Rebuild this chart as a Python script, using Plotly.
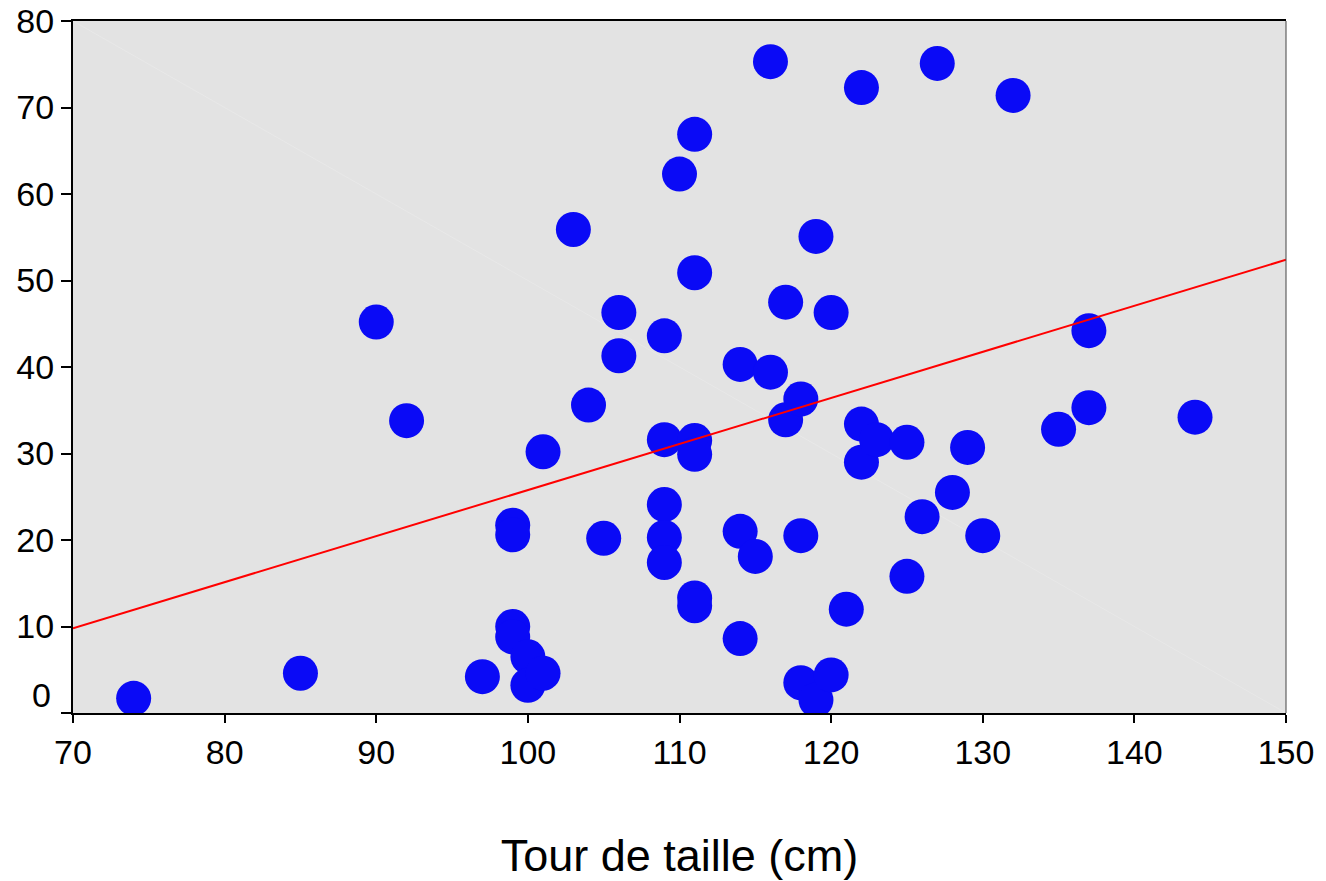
import plotly.graph_objects as go

# Waist circumference (cm) and the measured variable for each subject
tour_taille = [74, 85, 90, 92, 97, 99, 99, 99, 99, 100, 100, 101, 101, 103, 104,
               105, 106, 106, 109, 109, 109, 109, 109, 110, 111, 111, 111, 111,
               111, 111, 114, 114, 114, 115, 116, 116, 117, 117, 118, 118, 118,
               119, 119, 120, 120, 121, 122, 122, 122, 123, 125, 125, 126, 127,
               128, 129, 130, 132, 135, 137, 137, 144]
valeur = [1.7, 4.6, 45.2, 33.8, 4.2, 21.7, 20.6, 10.0, 8.8, 6.5, 3.2, 4.6, 30.2,
          55.9, 35.6, 20.2, 46.3, 41.3, 43.6, 31.6, 24.1, 20.3, 17.4, 62.3, 66.9,
          50.9, 31.5, 29.9, 13.3, 12.4, 40.3, 21.0, 8.6, 18.1, 75.3, 39.4, 47.5,
          33.9, 36.3, 20.5, 3.5, 55.1, 1.5, 46.3, 4.4, 12.0, 72.3, 33.4, 29.0,
          31.6, 31.3, 15.8, 22.7, 75.1, 25.5, 30.7, 20.5, 71.4, 32.8, 44.2, 35.3,
          34.2]

# Linear fit drawn across the full x range
droite_x = [70, 150]
droite_y = [9.8, 52.4]

x_ticks = [70, 80, 90, 100, 110, 120, 130, 140, 150]
y_ticks = [0, 10, 20, 30, 40, 50, 60, 70, 80]

FONT = "Liberation Sans, Arial, sans-serif"
TICK_SIZE = 34

fig = go.Figure()
fig.add_trace(go.Scatter(
    x=tour_taille, y=valeur, mode="markers",
    marker=dict(size=35, color="#0a0af6", line=dict(width=0)),
    showlegend=False, hoverinfo="x+y",
))
fig.add_trace(go.Scatter(
    x=droite_x, y=droite_y, mode="lines",
    line=dict(color="#ff0000", width=2),
    showlegend=False, hoverinfo="skip",
))

# faint diagonal streak across the panel
fig.add_shape(type="line", xref="x", yref="y", x0=70, y0=80, x1=150, y1=0,
              line=dict(color="#e8e8e8", width=1), layer="below")
# thin right border of the panel
fig.add_shape(type="line", xref="paper", yref="paper", x0=1, y0=0, x1=1, y1=1,
              line=dict(color="#444444", width=1))

# "0" label sits slightly above its tick
fig.add_annotation(x=0, xref="paper", y=2.1, yref="y", text="0",
                   showarrow=False, xanchor="right", xshift=-20,
                   font=dict(family=FONT, size=TICK_SIZE, color="black"))

fig.update_layout(
    width=1326, height=881,
    margin=dict(l=73, r=40, t=21, b=168, autoexpand=False),
    paper_bgcolor="white", plot_bgcolor="#e3e3e3",
    font=dict(family=FONT, size=TICK_SIZE, color="black"),
)
fig.update_xaxes(
    range=[70, 150], tickvals=x_ticks, ticktext=[str(v) for v in x_ticks],
    showgrid=False, zeroline=False, automargin=False,
    showline=True, linecolor="black", linewidth=2, mirror=True,
    ticks="outside", ticklen=8, tickwidth=2, tickcolor="black",
    tickfont=dict(family=FONT, size=TICK_SIZE, color="black"),
    title=dict(text="Tour de taille (cm)", standoff=70,
               font=dict(family=FONT, size=45, color="black")),
)
fig.update_yaxes(
    range=[0, 80], tickvals=y_ticks,
    ticktext=["" if v == 0 else str(v) for v in y_ticks],
    showgrid=False, zeroline=False, automargin=False,
    showline=True, linecolor="black", linewidth=2,
    ticks="outside", ticklen=10, tickwidth=2, tickcolor="black",
    tickfont=dict(family=FONT, size=TICK_SIZE, color="black"),
)

fig.write_html("out.html")
